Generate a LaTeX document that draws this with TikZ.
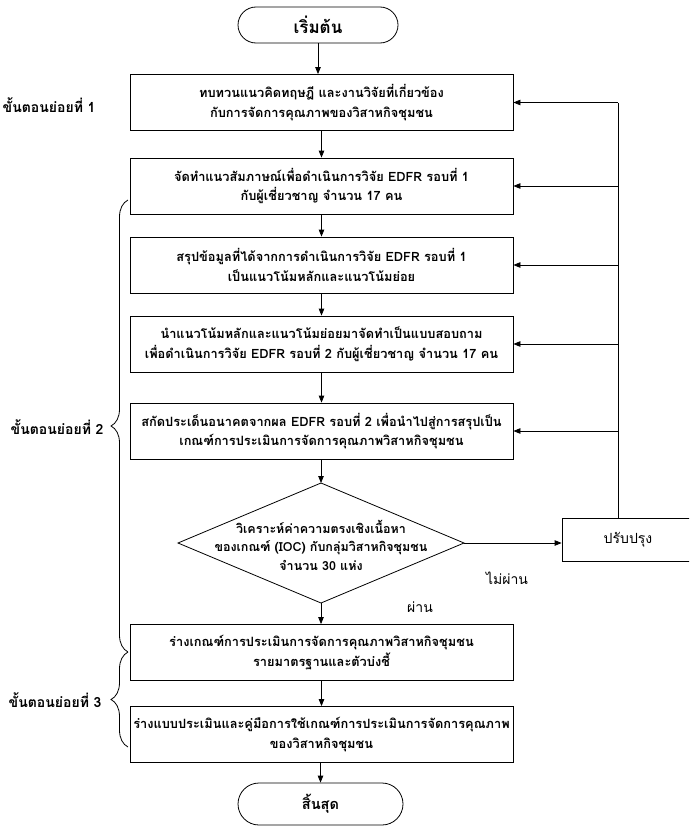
\documentclass[tikz,border=0pt]{standalone}
\usepackage{fontspec}
\newfontfamily\thaifont[Script=Thai]{Loma}
\usetikzlibrary{arrows.meta,shapes.misc,decorations.pathreplacing}
\begin{document}
\begin{tikzpicture}[x=1pt,y=1pt,
  font=\thaifont\fontsize{12.5}{19}\selectfont,
  line/.style={line width=0.8pt},
  arr/.style={line width=0.8pt,-{Triangle[length=7pt,width=5.5pt]}},
  box/.style={draw,line width=0.8pt,minimum width=383pt,minimum height=56pt,align=center,inner sep=2pt,font=\thaifont\bfseries\fontsize{12.8}{19.5}\selectfont},
  term/.style={draw,line width=0.8pt,rounded rectangle,inner sep=0pt,font=\thaifont\bfseries\fontsize{17}{19}\selectfont},
  dectext/.style={inner sep=0pt,align=center,font=\thaifont\bfseries\fontsize{12.5}{18.5}\selectfont},
  steplbl/.style={font=\thaifont\bfseries\fontsize{14}{16}\selectfont,anchor=east},
  brc/.style={line width=0.8pt,decorate,decoration={brace,amplitude=17pt}},
  lbl/.style={font=\thaifont\fontsize{14}{16}\selectfont}
]
\clip (0,-827) rectangle (689,0);
\fill[white] (0,-827) rectangle (689,0);

\node[term,minimum width=160pt,minimum height=36pt] (start) at (318,-25) {เริ่มต้น};
\node[box] (b1) at (321.5,-102.5) {ทบทวนแนวคิดทฤษฎี และงานวิจัยที่เกี่ยวข้อง\\กับการจัดการคุณภาพของวิสาหกิจชุมชน};
\node[box] (b2) at (321.5,-186) {จัดทำแนวสัมภาษณ์เพื่อดำเนินการวิจัย EDFR รอบที่ 1\\กับผู้เชี่ยวชาญ จำนวน 17 คน};
\node[box] (b3) at (321.5,-265) {สรุปข้อมูลที่ได้จากการดำเนินการวิจัย EDFR รอบที่ 1\\เป็นแนวโน้มหลักและแนวโน้มย่อย};
\node[box] (b4) at (321.5,-344) {นำแนวโน้มหลักและแนวโน้มย่อยมาจัดทำเป็นแบบสอบถาม\\เพื่อดำเนินการวิจัย EDFR รอบที่ 2 กับผู้เชี่ยวชาญ จำนวน 17 คน};
\node[box] (b5) at (321.5,-431) {สกัดประเด็นอนาคตจากผล EDFR รอบที่ 2 เพื่อนำไปสู่การสรุปเป็น\\เกณฑ์การประเมินการจัดการคุณภาพวิสาหกิจชุมชน};

\node[dectext] (dia) at (321,-545) {วิเคราะห์ค่าความตรงเชิงเนื้อหา\\ของเกณฑ์ (IOC) กับกลุ่มวิสาหกิจชุมชน\\จำนวน 30 แห่ง};
\coordinate (dt) at (321,-483);
\coordinate (db) at (321,-603);
\coordinate (dl) at (178,-543);
\coordinate (dr) at (464,-543);
\draw[line,line join=miter] (dt) -- (dr) -- (db) -- (dl) -- cycle;

\node[box] (b6) at (321.5,-652.5) {ร่างเกณฑ์การประเมินการจัดการคุณภาพวิสาหกิจชุมชน\\รายมาตรฐานและตัวบ่งชี้};
\node[box] (b7) at (321.5,-734.5) {ร่างแบบประเมินและคู่มือการใช้เกณฑ์การประเมินการจัดการคุณภาพ\\ของวิสาหกิจชุมชน};
\node[term,minimum width=165pt,minimum height=42pt,font=\thaifont\bfseries\fontsize{14.5}{17}\selectfont] (stop) at (320.5,-804) {สิ้นสุด};
\node[draw,line width=0.8pt,minimum width=135pt,minimum height=43pt,inner sep=0pt,font=\thaifont\fontsize{14}{16}\selectfont] (fix) at (629.5,-539.5) {ปรับปรุง\hspace*{3pt}};

\node[steplbl] (s1) at (99,-105) {ขั้นตอนย่อยที่ 1};
\node[steplbl] (s2) at (107,-427) {ขั้นตอนย่อยที่ 2};
\node[steplbl] (s3) at (105,-700) {ขั้นตอนย่อยที่ 3};
\node[lbl] (nopass) at (507,-578) {ไม่ผ่าน};
\node[lbl] (pass) at (420,-607) {ผ่าน};

\draw[arr] (start.south) -- (b1.north -| start.south);
\draw[arr] (b1.south) -- (b2.north);
\draw[arr] (b2.south) -- (b3.north);
\draw[arr] (b3.south) -- (b4.north);
\draw[arr] (b4.south) -- (b5.north);
\draw[arr] (b5.south -| dt) -- (dt);
\draw[arr] (db) -- (b6.north -| db);
\draw[arr] (b6.south) -- (b7.north);
\draw[arr] (b7.south -| stop.north) -- (stop.north);
\draw[arr] (dr) -- (fix.west |- dr);

\coordinate (up) at (618,-100);
\draw[line] (fix.north -| up) -- (b1.east -| up);
\foreach \b in {b1,b2,b3,b4,b5} \draw[arr] (\b.east -| up) -- (\b.east);

\draw[brc] (128,-652) -- (128,-200);
\draw[brc] (128,-747) -- (128,-652);
\end{tikzpicture}
\end{document}
